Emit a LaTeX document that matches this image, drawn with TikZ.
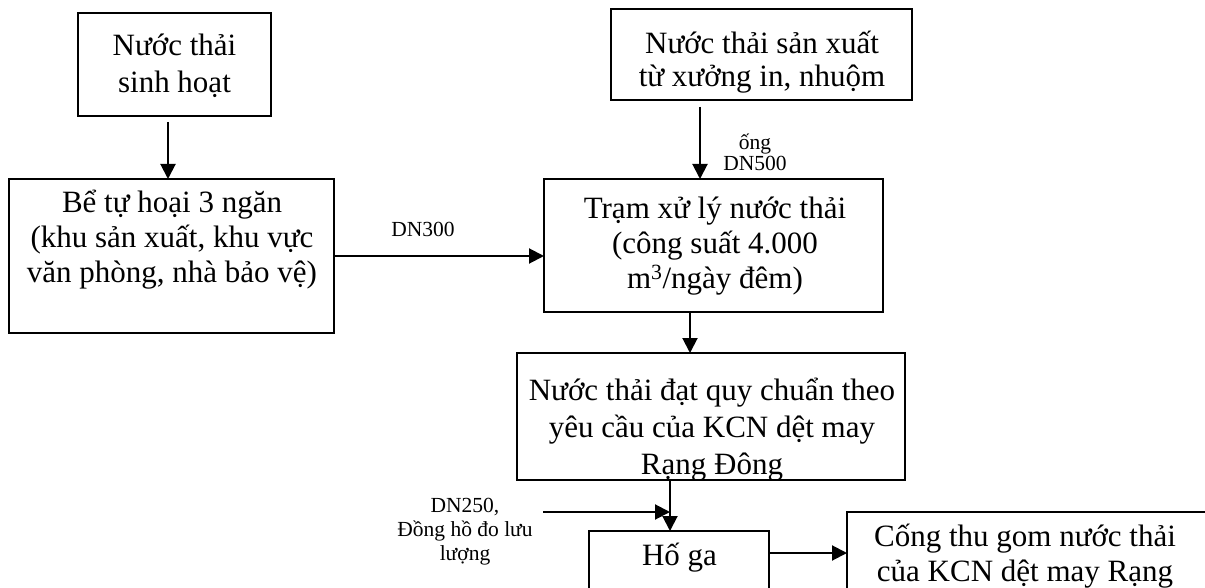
\documentclass[tikz,border=0pt]{standalone}
\usepackage{fontspec}
\setmainfont{Liberation Serif}
\usetikzlibrary{arrows.meta,calc}
\begin{document}
\begin{tikzpicture}[x=1pt,y=-1pt,
  box/.style={draw,line width=1.5pt,inner sep=0pt,outer sep=0pt,anchor=north west},
  big/.style={font=\fontsize{31}{35}\selectfont,align=center,inner sep=0pt},
  small/.style={font=\fontsize{21.5}{21}\selectfont,align=center,inner sep=0pt},
  arr/.style={line width=2pt,-{Triangle[length=15pt,width=15pt]}}]
\useasboundingbox (0,0) rectangle (1205,588);
\clip (0,0) rectangle (1205,588);
% boxes
\node[box,minimum width=193pt,minimum height=103pt] (b1) at (78,13) {};
\node[box,minimum width=325pt,minimum height=154pt] (b2) at (9,179) {};
\node[box,minimum width=339pt,minimum height=133pt] (b3) at (544,179) {};
\node[box,minimum width=301pt,minimum height=91pt] (b4) at (611,9) {};
\node[box,minimum width=388pt,minimum height=127pt] (b5) at (517,353) {};
\node[box,minimum width=180pt,minimum height=109pt] (b6) at (589,531) {};
\node[box,minimum width=361pt,minimum height=128pt] (b7) at (847,512) {};
% texts
\node[big,font=\fontsize{31}{37}\selectfont] (t1) at (174.5,66) {Nước thải\\sinh hoạt};
\node[big] (t2) at (172,240) {Bể tự hoại 3 ngăn\\ (khu sản xuất, khu vực\\văn phòng, nhà bảo vệ)};
\node[big] (t3) at (715,246) {Trạm xử lý nước thải\\(công suất 4.000\\m\textsuperscript{3}/ngày đêm)};
\node[big,font=\fontsize{31}{33}\selectfont] (t4) at (762,62) {Nước thải sản xuất\\từ xưởng in, nhuộm};
\node[big,font=\fontsize{31}{37}\selectfont] (t5) at (712,430) {Nước thải đạt quy chuẩn theo\\yêu cầu của KCN dệt may\\Rạng Đông};
\node[big] (t6) at (679.5,558) {Hố ga};
\node[big] (t7) at (1025,556) {Cống thu gom nước thải\\của KCN dệt may Rạng};
% labels
\node[small] (l1) at (423,229) {DN300};
\node[small] (l2) at (755,152) {ống\\DN500};
\node[small,font=\fontsize{21.5}{24}\selectfont] (l3) at (465,532) {DN250,\\Đồng hồ đo lưu\\lượng};
% connectors
\draw[arr] ($(b1.south)+(-6.5,6)$) coordinate (s1) -- (s1 |- b2.north);
\draw[arr] (b2.east) -- (b2.east -| b3.west);
\draw[arr] ($(b4.south)+(-61.5,7)$) coordinate (s3) -- (s3 |- b3.north);
\draw[arr] ($(b3.south)+(-23.5,0)$) coordinate (s4) -- (s4 |- b5.north);
\draw[arr] ($(b5.south)+(-41,0)$) coordinate (s5) -- (s5 |- b6.north);
\coordinate (d250) at (543,512);
\draw[arr] (d250) -- (d250 -| s5);
\draw[arr] ($(b6.north east)+(0,22)$) coordinate (s7) -- (s7 -| b7.west);
\end{tikzpicture}
\end{document}
